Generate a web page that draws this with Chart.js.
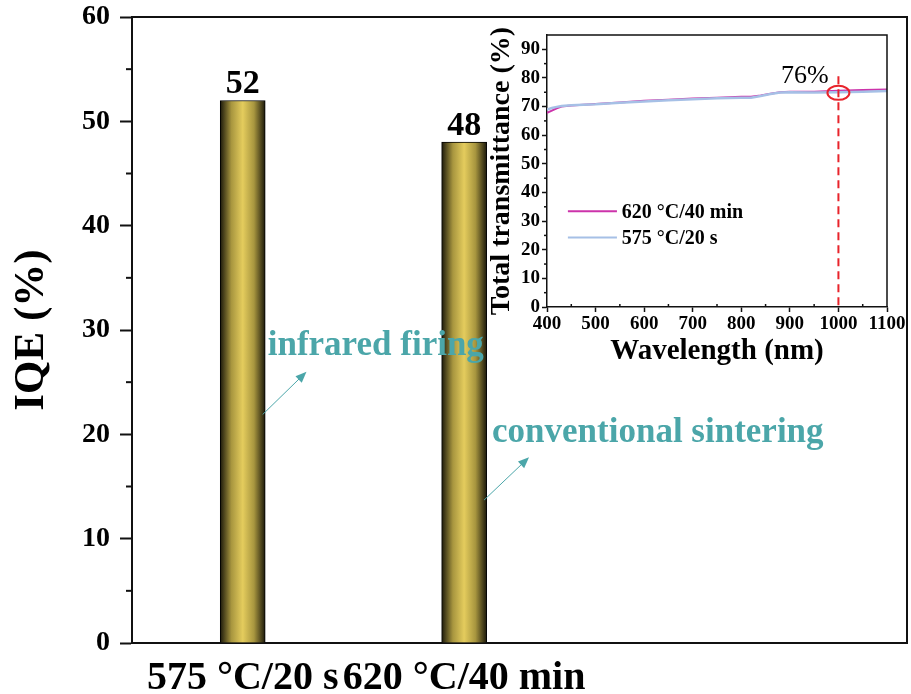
<!DOCTYPE html>
<html>
<head>
<meta charset="utf-8">
<script src="https://cdn.jsdelivr.net/npm/chart.js"></script>
<style>
  body { margin: 0; background: #fff; }
  #wrap { position: relative; width: 911px; height: 694px; }
  #mainChart { position: absolute; left: 0; top: 0; }
  #insetChart { position: absolute; left: 480px; top: 20px; }
</style>
</head>
<body>
<div id="wrap">
  <canvas id="mainChart" width="911" height="694"></canvas>
  <canvas id="insetChart" width="431" height="360"></canvas>
</div>
<script>
// Main bar chart data
const conditions = ['575 °C/20 s', '620 °C/40 min'];
const conditionPos = [1, 2];
const iqeValues = [52, 48];
const iqeMinor = [5, 15, 25, 35, 45, 55];

// Inset transmittance spectra
const wavelengths = [400, 410, 420, 430, 450, 500, 550, 600, 650, 700, 750, 800, 820, 840, 860, 880, 900, 950, 1000, 1050, 1100];
const trans620 = [67.8, 68.6, 69.4, 70.0, 70.4, 70.9, 71.4, 72.0, 72.4, 72.8, 73.1, 73.4, 73.4, 73.9, 74.5, 75.0, 75.2, 75.2, 75.5, 75.8, 76.0];
const trans575 = [69.0, 69.5, 69.9, 70.2, 70.5, 70.8, 71.3, 71.8, 72.2, 72.6, 72.9, 73.1, 73.1, 73.7, 74.4, 74.9, 75.0, 74.9, 75.0, 75.2, 75.4];
const seriesNames = ['620 °C/40 min', '575 °C/20 s'];
const seriesColors = ['#cc33aa', '#a6c0e6'];
const transTicks = [0, 10, 20, 30, 40, 50, 60, 70, 80, 90];
const transMinorY = [5, 15, 25, 35, 45, 55, 65, 75, 85];
const transMinorX = [450, 550, 650, 750, 850, 950, 1050];
const markWavelength = 1000;
const markValue = 76;

const serif = "'Liberation Serif', 'Times New Roman', serif";
const teal = '#4ba6a9';

// gradient for the golden bars, dark at the edges
function barFill(context) {
  const chart = context.chart;
  if (!chart.chartArea) return '#dcc255';
  const x = chart.scales.x.getPixelForValue(conditionPos[context.dataIndex]);
  const g = chart.ctx.createLinearGradient(x - 22.5, 0, x + 22.5, 0);
  g.addColorStop(0, '#1c190b');
  g.addColorStop(0.25, '#a8963f');
  g.addColorStop(0.5, '#e4cc5d');
  g.addColorStop(0.75, '#a8963f');
  g.addColorStop(1, '#1c190b');
  return g;
}

// short minor ticks on the axes
const minorTicks = {
  id: 'minorTicks',
  afterDraw(chart, args, opts) {
    const ctx = chart.ctx;
    const area = chart.chartArea;
    ctx.save();
    ctx.strokeStyle = '#111';
    ctx.lineWidth = opts.width;
    (opts.y || []).forEach(v => {
      const py = chart.scales.y.getPixelForValue(v);
      ctx.beginPath();
      ctx.moveTo(area.left - opts.len, py);
      ctx.lineTo(area.left, py);
      ctx.stroke();
    });
    (opts.x || []).forEach(v => {
      const px = chart.scales.x.getPixelForValue(v);
      ctx.beginPath();
      ctx.moveTo(px, area.bottom);
      ctx.lineTo(px, area.bottom - opts.len);
      ctx.stroke();
    });
    ctx.restore();
  }
};

// top and right sides of the frame
const frame = {
  id: 'frame',
  afterDraw(chart, args, opts) {
    const ctx = chart.ctx;
    const a = chart.chartArea;
    ctx.save();
    ctx.strokeStyle = '#111';
    ctx.lineWidth = opts.width;
    ctx.beginPath();
    ctx.moveTo(a.left, a.top);
    ctx.lineTo(a.right, a.top);
    ctx.lineTo(a.right, a.bottom);
    ctx.stroke();
    ctx.restore();
  }
};

// value labels on the bars + the teal notes with arrows
const barNotes = {
  id: 'barNotes',
  afterDatasetsDraw(chart) {
    const ctx = chart.ctx;
    const xs = chart.scales.x;
    const ys = chart.scales.y;
    ctx.save();
    ctx.fillStyle = '#000';
    ctx.font = 'bold 34px ' + serif;
    ctx.textAlign = 'center';
    ctx.textBaseline = 'alphabetic';
    chart.getDatasetMeta(0).data.forEach((bar, i) => {
      ctx.fillText(String(iqeValues[i]), bar.x, bar.y - 7);
    });

    const notes = [
      { text: 'infrared firing', x: 1.113, y: 27.6, from: [1.09, 21.9], to: [1.288, 26.0] },
      { text: 'conventional sintering', x: 2.126, y: 19.3, from: [2.09, 13.7], to: [2.293, 17.8] }
    ];
    ctx.font = 'bold 35px ' + serif;
    ctx.textAlign = 'left';
    notes.forEach(n => {
      ctx.fillStyle = teal;
      ctx.fillText(n.text, xs.getPixelForValue(n.x), ys.getPixelForValue(n.y));
      const x1 = xs.getPixelForValue(n.from[0]), y1 = ys.getPixelForValue(n.from[1]);
      const x2 = xs.getPixelForValue(n.to[0]), y2 = ys.getPixelForValue(n.to[1]);
      const ang = Math.atan2(y2 - y1, x2 - x1);
      ctx.strokeStyle = teal;
      ctx.lineWidth = 1;
      ctx.beginPath();
      ctx.moveTo(x1, y1);
      ctx.lineTo(x2 - 8 * Math.cos(ang), y2 - 8 * Math.sin(ang));
      ctx.stroke();
      ctx.beginPath();
      ctx.moveTo(x2, y2);
      ctx.lineTo(x2 - 11 * Math.cos(ang) + 4.5 * Math.sin(ang), y2 - 11 * Math.sin(ang) - 4.5 * Math.cos(ang));
      ctx.lineTo(x2 - 11 * Math.cos(ang) - 4.5 * Math.sin(ang), y2 - 11 * Math.sin(ang) + 4.5 * Math.cos(ang));
      ctx.closePath();
      ctx.fill();
    });
    ctx.restore();
  }
};

new Chart(document.getElementById('mainChart'), {
  type: 'bar',
  data: {
    datasets: [{
      data: conditionPos.map((x, i) => ({ x: x, y: iqeValues[i] })),
      backgroundColor: barFill,
      borderColor: '#000',
      borderWidth: 1,
      barThickness: 45
    }]
  },
  options: {
    responsive: false,
    animation: false,
    layout: { padding: { top: 17, right: 4, left: 0, bottom: 0 } },
    plugins: {
      legend: { display: false },
      tooltip: { enabled: false },
      minorTicks: { y: iqeMinor, len: 6, width: 2 },
      frame: { width: 2 }
    },
    scales: {
      x: {
        type: 'linear',
        min: 0.5,
        max: 4,
        offset: false,
        afterBuildTicks: s => { s.ticks = conditionPos.map(v => ({ value: v })); },
        afterFit: s => { s.height = 51; },
        grid: { display: false, drawTicks: false, offset: false },
        border: { display: true, color: '#111', width: 2 },
        ticks: {
          autoSkip: false,
          maxRotation: 0,
          padding: 12,
          color: '#000',
          font: { family: serif, size: 40, weight: 'bold' },
          callback: v => conditions[conditionPos.indexOf(v)] || ''
        }
      },
      y: {
        min: 0,
        max: 60,
        afterFit: s => { s.width = 132; s.paddingTop = 0; s.paddingBottom = 0; },
        grid: { drawOnChartArea: false, tickLength: 12, tickWidth: 2, color: '#111' },
        border: { display: true, color: '#111', width: 2 },
        ticks: {
          stepSize: 10,
          padding: 10,
          color: '#000',
          font: { family: serif, size: 28, weight: 'bold' }
        },
        title: {
          display: true,
          text: 'IQE (%)',
          color: '#000',
          padding: { top: 6, bottom: 0 },
          font: { family: serif, size: 43, weight: 'bold' }
        }
      }
    }
  },
  plugins: [minorTicks, frame, barNotes]
});

// inset: 76% marker, dashed line and legend
const insetMarks = {
  id: 'insetMarks',
  afterDatasetsDraw(chart) {
    const ctx = chart.ctx;
    const xs = chart.scales.x;
    const ys = chart.scales.y;
    const a = chart.chartArea;
    const mx = xs.getPixelForValue(markWavelength);
    ctx.save();
    ctx.strokeStyle = '#e8232b';
    ctx.lineWidth = 2;
    ctx.setLineDash([8, 5]);
    ctx.beginPath();
    ctx.moveTo(mx, ys.getPixelForValue(80.6));
    ctx.lineTo(mx, a.bottom);
    ctx.stroke();
    ctx.setLineDash([]);
    ctx.beginPath();
    ctx.ellipse(mx, ys.getPixelForValue(74.8), 11, 7, 0, 0, Math.PI * 2);
    ctx.stroke();

    ctx.fillStyle = '#000';
    ctx.font = '26px ' + serif;
    ctx.textAlign = 'left';
    ctx.textBaseline = 'alphabetic';
    ctx.fillText(markValue + '%', xs.getPixelForValue(882), ys.getPixelForValue(78.2));

    // legend
    ctx.font = 'bold 20px ' + serif;
    ctx.textBaseline = 'middle';
    const legendY = [33.4, 24.3];
    seriesNames.forEach((name, i) => {
      const py = ys.getPixelForValue(legendY[i]);
      ctx.strokeStyle = seriesColors[i];
      ctx.lineWidth = 2;
      ctx.beginPath();
      ctx.moveTo(xs.getPixelForValue(443), py);
      ctx.lineTo(xs.getPixelForValue(544), py);
      ctx.stroke();
      ctx.fillText(name, xs.getPixelForValue(554), py + 1);
    });
    ctx.restore();
  }
};

new Chart(document.getElementById('insetChart'), {
  type: 'line',
  data: {
    datasets: [
      {
        label: seriesNames[0],
        data: wavelengths.map((w, i) => ({ x: w, y: trans620[i] })),
        borderColor: seriesColors[0],
        borderWidth: 2,
        pointRadius: 0,
        order: 2
      },
      {
        label: seriesNames[1],
        data: wavelengths.map((w, i) => ({ x: w, y: trans575[i] })),
        borderColor: seriesColors[1],
        borderWidth: 2.5,
        pointRadius: 0,
        order: 1
      }
    ]
  },
  options: {
    responsive: false,
    animation: false,
    layout: { padding: { top: 15, right: 24, left: 0, bottom: 0 } },
    plugins: {
      legend: { display: false },
      tooltip: { enabled: false },
      minorTicks: { y: transMinorY, x: transMinorX, len: 3, width: 1.5 },
      frame: { width: 1.5 }
    },
    scales: {
      x: {
        type: 'linear',
        min: 400,
        max: 1100,
        afterFit: s => { s.height = 73; },
        grid: { drawOnChartArea: false, tickLength: 5, tickWidth: 1.5, color: '#111' },
        border: { display: true, color: '#111', width: 1.5 },
        ticks: {
          stepSize: 100,
          autoSkip: false,
          maxRotation: 0,
          padding: 1,
          color: '#000',
          font: { family: serif, size: 19, weight: 'bold' },
          callback: v => String(v)
        },
        title: {
          display: true,
          text: 'Wavelength (nm)',
          color: '#000',
          padding: { top: 0, bottom: 11 },
          font: { family: serif, size: 29, weight: 'bold' }
        }
      },
      y: {
        min: 0,
        max: 95,
        afterBuildTicks: s => { s.ticks = transTicks.map(v => ({ value: v })); },
        afterFit: s => { s.width = 67; },
        grid: { drawOnChartArea: false, tickLength: 5, tickWidth: 1.5, color: '#111' },
        border: { display: true, color: '#111', width: 1.5 },
        ticks: {
          padding: 2,
          color: '#000',
          font: { family: serif, size: 19, weight: 'bold' },
          callback: v => String(v)
        },
        title: {
          display: true,
          text: 'Total transmittance (%)',
          color: '#000',
          padding: { top: 5, bottom: 0 },
          font: { family: serif, size: 28, weight: 'bold' }
        }
      }
    }
  },
  plugins: [minorTicks, frame, insetMarks]
});
</script>
</body>
</html>
